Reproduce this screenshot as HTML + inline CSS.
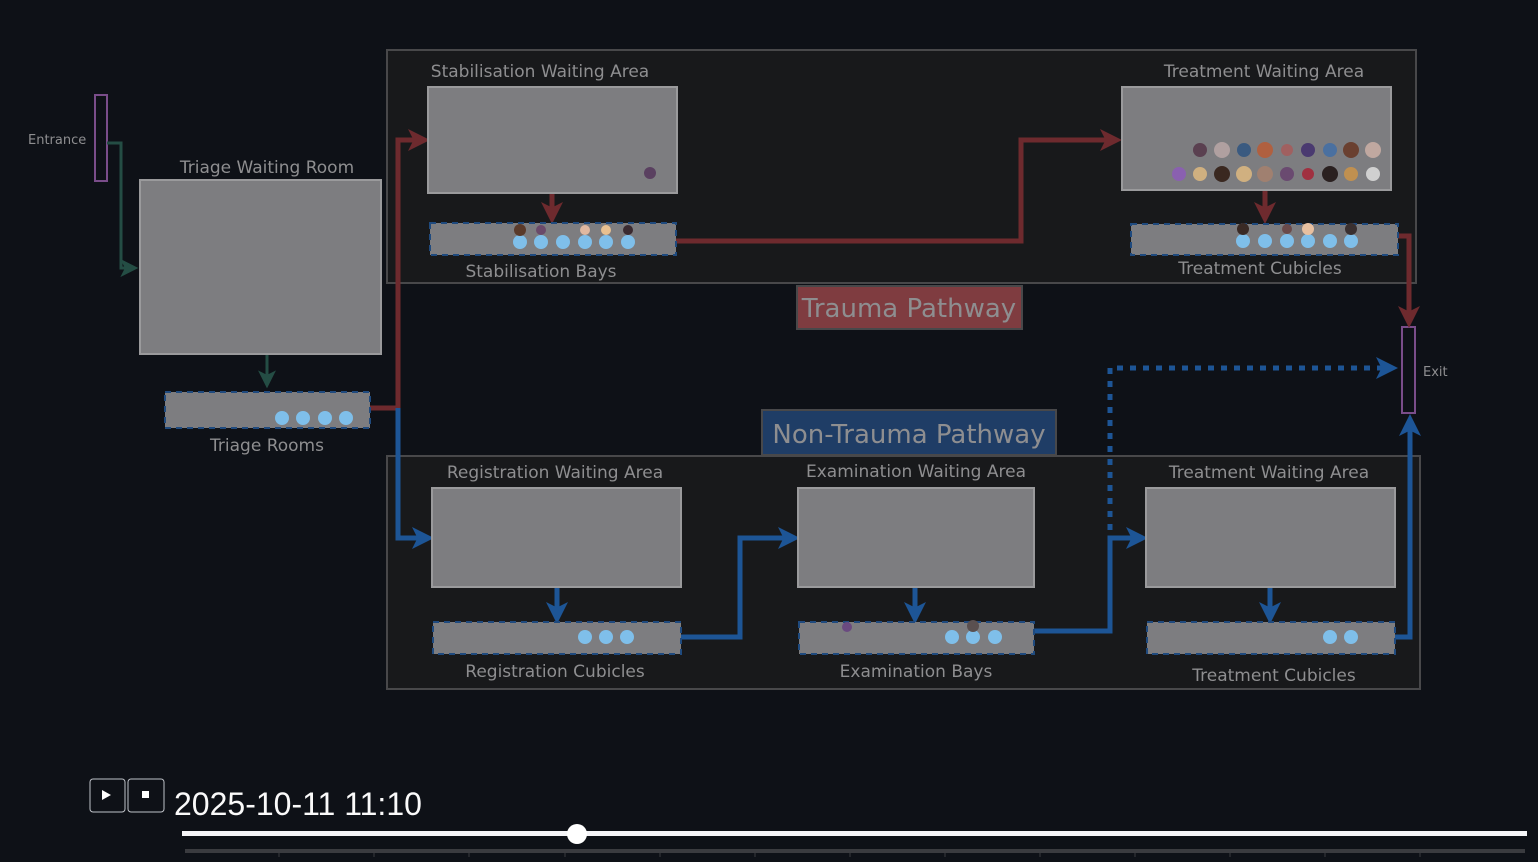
<!DOCTYPE html>
<html><head><meta charset="utf-8"><style>
html,body{margin:0;padding:0;background:#0e1117;width:1538px;height:862px;overflow:hidden}
svg{display:block}
text{font-family:"DejaVu Sans","Liberation Sans",sans-serif;fill:#8e8e90}
</style></head><body>
<svg width="1538" height="862" viewBox="0 0 1538 862" xmlns="http://www.w3.org/2000/svg">
<defs>
<marker id="ar" markerWidth="4.4" markerHeight="4.4" refX="2.4" refY="2.2" orient="auto" markerUnits="strokeWidth"><path d="M0,0 L4.4,2.2 L0,4.4 L1.1,2.2 z" fill="#6e2a2e"/></marker>
<marker id="ab" markerWidth="4.4" markerHeight="4.4" refX="2.4" refY="2.2" orient="auto" markerUnits="strokeWidth"><path d="M0,0 L4.4,2.2 L0,4.4 L1.1,2.2 z" fill="#1d5596"/></marker>
<marker id="ag" markerWidth="6" markerHeight="6" refX="3.2" refY="3" orient="auto" markerUnits="strokeWidth"><path d="M0,0 L6,3 L0,6 L1.5,3 z" fill="#244d44"/></marker>
</defs>
<rect x="387" y="50" width="1029" height="233" fill="#18191b" stroke="#48484a" stroke-width="2"/>
<rect x="387" y="456" width="1033" height="233" fill="#18191b" stroke="#48484a" stroke-width="2"/>
<rect x="95" y="95" width="12" height="86" fill="none" stroke="#7a4d8a" stroke-width="2"/>
<text x="28" y="144" font-size="13">Entrance</text>
<rect x="1402" y="327" width="13" height="86" fill="none" stroke="#7a4d8a" stroke-width="2"/>
<text x="1423" y="376" font-size="13">Exit</text>
<g fill="none">
<path d="M107,143 H121 V268 H130" stroke="#244d44" stroke-width="3" marker-end="url(#ag)"/>
<path d="M267,354 V380" stroke="#244d44" stroke-width="3" marker-end="url(#ag)"/>
<path d="M370,408 H398 V140 H420" stroke="#6e2a2e" stroke-width="5" marker-end="url(#ar)"/>
<path d="M552,193 V214" stroke="#6e2a2e" stroke-width="5" marker-end="url(#ar)"/>
<path d="M676,241 H1021 V140 H1112" stroke="#6e2a2e" stroke-width="5" marker-end="url(#ar)"/>
<path d="M1265,190 V214" stroke="#6e2a2e" stroke-width="5" marker-end="url(#ar)"/>
<path d="M1398,236 H1409 V318" stroke="#6e2a2e" stroke-width="5" marker-end="url(#ar)"/>
<path d="M398,408 V538 H424" stroke="#1d5596" stroke-width="5" marker-end="url(#ab)"/>
<path d="M557,587 V614" stroke="#1d5596" stroke-width="5" marker-end="url(#ab)"/>
<path d="M681,637 H740 V538 H790" stroke="#1d5596" stroke-width="5" marker-end="url(#ab)"/>
<path d="M915,587 V614" stroke="#1d5596" stroke-width="5" marker-end="url(#ab)"/>
<path d="M1034,631 H1110 V538 H1138" stroke="#1d5596" stroke-width="5" marker-end="url(#ab)"/>
<path d="M1110,530 V368 H1388" stroke="#1d5596" stroke-width="5" stroke-dasharray="6,7" marker-end="url(#ab)"/>
<path d="M1270,587 V614" stroke="#1d5596" stroke-width="5" marker-end="url(#ab)"/>
<path d="M1395,637 H1410 V424" stroke="#1d5596" stroke-width="5" marker-end="url(#ab)"/>
</g>
<g fill="#7d7d80" stroke="#9a9a9c" stroke-width="2">
<rect x="140" y="180" width="241" height="174"/>
<rect x="428" y="87" width="249" height="106"/>
<rect x="1122" y="87" width="269" height="103"/>
<rect x="432" y="488" width="249" height="99"/>
<rect x="798" y="488" width="236" height="99"/>
<rect x="1146" y="488" width="249" height="99"/>
</g>
<g fill="#7d7d80" stroke="#1f4a7e" stroke-width="2" stroke-dasharray="6,5">
<rect x="165" y="392" width="205" height="36"/>
<rect x="430" y="223" width="246" height="32"/>
<rect x="1131" y="224" width="267" height="31"/>
<rect x="433" y="622" width="248" height="32"/>
<rect x="799" y="622" width="235" height="32"/>
<rect x="1147" y="622" width="248" height="32"/>
</g>
<g font-size="17" text-anchor="middle">
<text x="267" y="173">Triage Waiting Room</text>
<text x="267" y="451">Triage Rooms</text>
<text x="540" y="77">Stabilisation Waiting Area</text>
<text x="541" y="277">Stabilisation Bays</text>
<text x="1264" y="77">Treatment Waiting Area</text>
<text x="1260" y="274">Treatment Cubicles</text>
<text x="555" y="478">Registration Waiting Area</text>
<text x="555" y="677">Registration Cubicles</text>
<text x="916" y="477">Examination Waiting Area</text>
<text x="916" y="677">Examination Bays</text>
<text x="1269" y="478">Treatment Waiting Area</text>
<text x="1274" y="681">Treatment Cubicles</text>
</g>
<rect x="797" y="286" width="225" height="43" fill="#7f3c40" stroke="#48484a" stroke-width="2"/>
<text x="909" y="317" font-size="26" text-anchor="middle">Trauma Pathway</text>
<rect x="762" y="410" width="294" height="45" fill="#1f3d66" stroke="#48484a" stroke-width="2"/>
<text x="909" y="443" font-size="26" text-anchor="middle">Non-Trauma Pathway</text>
<g fill="#7fbfea">
<circle cx="282" cy="418" r="7"/><circle cx="303" cy="418" r="7"/><circle cx="325" cy="418" r="7"/><circle cx="346" cy="418" r="7"/>
<circle cx="520" cy="242" r="7"/><circle cx="541" cy="242" r="7"/><circle cx="563" cy="242" r="7"/><circle cx="585" cy="242" r="7"/><circle cx="606" cy="242" r="7"/><circle cx="628" cy="242" r="7"/>
<circle cx="1243" cy="241" r="7"/><circle cx="1265" cy="241" r="7"/><circle cx="1287" cy="241" r="7"/><circle cx="1308" cy="241" r="7"/><circle cx="1330" cy="241" r="7"/><circle cx="1351" cy="241" r="7"/>
<circle cx="585" cy="637" r="7"/><circle cx="606" cy="637" r="7"/><circle cx="627" cy="637" r="7"/>
<circle cx="952" cy="637" r="7"/><circle cx="973" cy="637" r="7"/><circle cx="995" cy="637" r="7"/>
<circle cx="1330" cy="637" r="7"/><circle cx="1351" cy="637" r="7"/>
</g>
<g>
<circle cx="520" cy="230" r="6" fill="#5a3a2a"/><circle cx="541" cy="230" r="5" fill="#6a4a6a"/><circle cx="585" cy="230" r="5" fill="#e0b8a0"/><circle cx="606" cy="230" r="5" fill="#e8c090"/><circle cx="628" cy="230" r="5" fill="#3a2a30"/>
<circle cx="650" cy="173" r="6" fill="#5a4060"/>
<circle cx="1243" cy="229" r="6" fill="#3a2a25"/><circle cx="1287" cy="229" r="5" fill="#6a4a4a"/><circle cx="1308" cy="229" r="6" fill="#e8c0a0"/><circle cx="1351" cy="229" r="6" fill="#3a3030"/>
<circle cx="1200" cy="150" r="7" fill="#5a4050"/><circle cx="1222" cy="150" r="8" fill="#b0a0a0"/><circle cx="1244" cy="150" r="7" fill="#3a5a80"/><circle cx="1265" cy="150" r="8" fill="#b06040"/><circle cx="1287" cy="150" r="6" fill="#a06060"/><circle cx="1308" cy="150" r="7" fill="#4a3a70"/><circle cx="1330" cy="150" r="7" fill="#4a70a0"/><circle cx="1351" cy="150" r="8" fill="#6a4030"/><circle cx="1373" cy="150" r="8" fill="#c0a8a0"/>
<circle cx="1179" cy="174" r="7" fill="#8a60b0"/><circle cx="1200" cy="174" r="7" fill="#d0b080"/><circle cx="1222" cy="174" r="8" fill="#3a2820"/><circle cx="1244" cy="174" r="8" fill="#d0b080"/><circle cx="1265" cy="174" r="8" fill="#a08070"/><circle cx="1287" cy="174" r="7" fill="#6a4a70"/><circle cx="1308" cy="174" r="6" fill="#a03040"/><circle cx="1330" cy="174" r="8" fill="#2a2020"/><circle cx="1351" cy="174" r="7" fill="#c09050"/><circle cx="1373" cy="174" r="7" fill="#d0d0d0"/>
<circle cx="847" cy="627" r="5" fill="#6a4a80"/><circle cx="973" cy="626" r="6" fill="#5a5050"/>
</g>
<rect x="90" y="779" width="35" height="33" rx="3" fill="none" stroke="#bfc2c8" stroke-width="1"/>
<path d="M102,790 L111,795 L102,800 z" fill="#fff"/>
<rect x="128" y="779" width="36" height="33" rx="3" fill="none" stroke="#bfc2c8" stroke-width="1"/>
<rect x="142" y="791" width="7" height="7" fill="#fff"/>
<text x="174" y="815" font-size="32" style="fill:#fafafa;font-family:'Liberation Sans',sans-serif">2025-10-11 11:10</text>
<rect x="182" y="831" width="1345" height="5" fill="#f5f5f8"/>
<circle cx="577" cy="834" r="10" fill="#fff"/>
<rect x="185" y="849" width="1340" height="4" fill="#3a3b3f"/>
<g stroke="#3a3b3f" stroke-width="1">
<path d="M279,853v4M374,853v4M469,853v4M565,853v4M660,853v4M755,853v4M850,853v4M945,853v4M1040,853v4M1135,853v4M1230,853v4M1325,853v4M1420,853v4"/>
</g>
</svg>
</body></html>
